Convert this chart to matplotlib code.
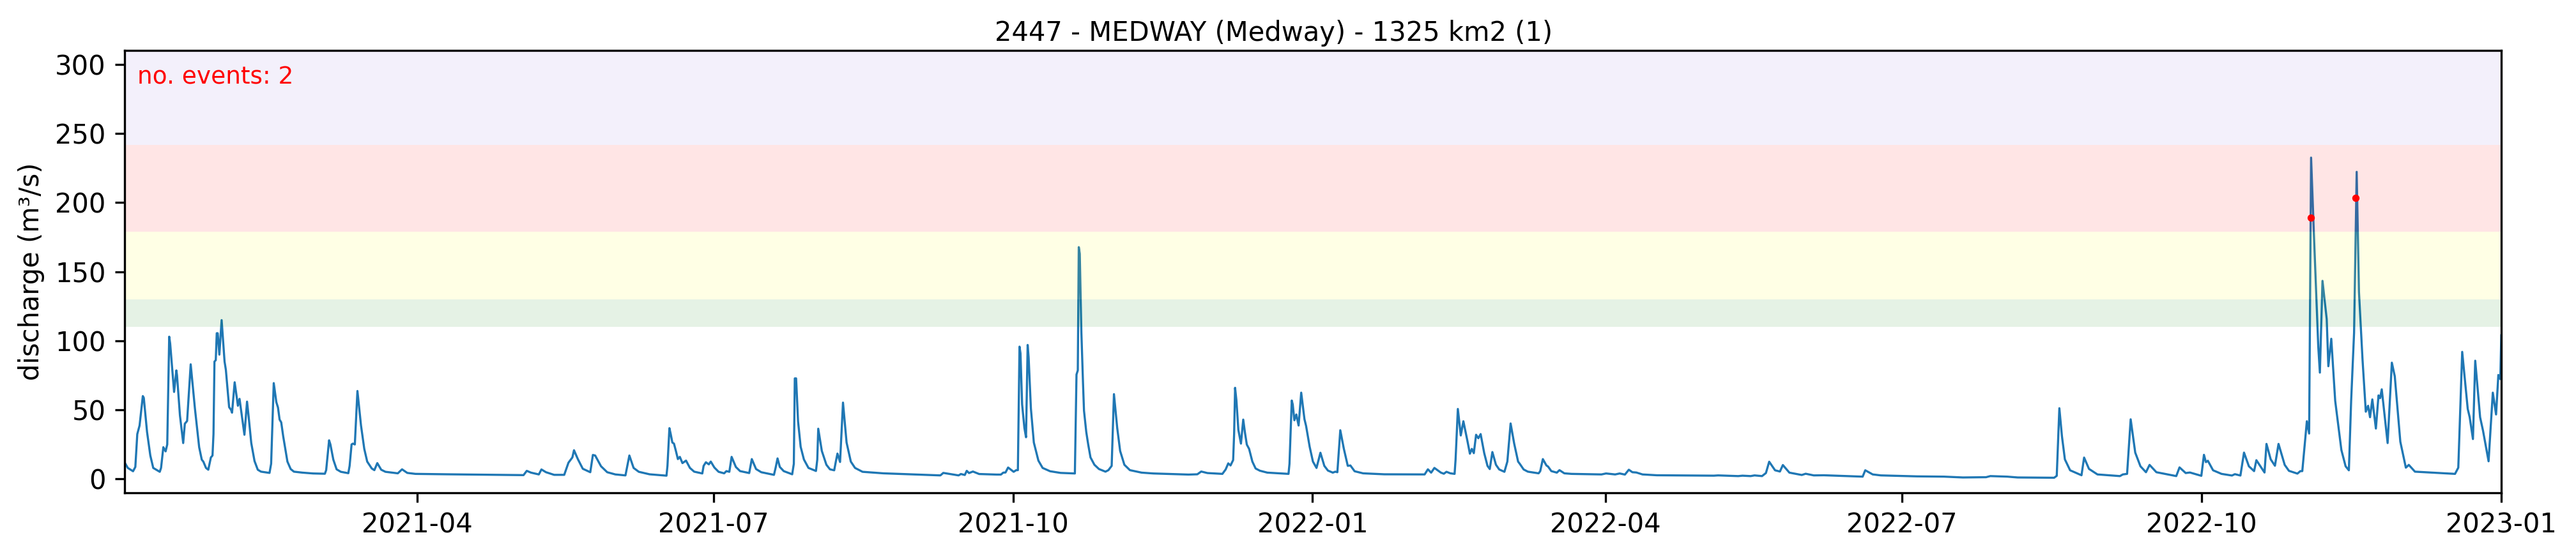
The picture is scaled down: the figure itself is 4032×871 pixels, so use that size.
import matplotlib
matplotlib.use("Agg")
import matplotlib.pyplot as plt
import matplotlib.dates as mdates
import numpy as np
import pandas as pd

# x origin of the axes, day offsets below count from here
start = pd.Timestamp("2021-01-01 05:00")
end = pd.Timestamp("2023-01-01")

title = "2447 - MEDWAY (Medway) - 1325 km2 (1)"
ylabel = "discharge (m³/s)"
events_label = "no. events: 2"

# discharge, one pair of lists per stretch of the record
days_a = [0, 1, 2.6, 3.3, 3.9, 4.6, 5.6, 5.9, 6.9, 7.9,
          8.8, 10.8, 11.2, 11.9, 12.6, 13.1, 13.7, 14, 15.2, 15.9,
          16.1, 17, 18, 18.5, 19.2, 20.3, 21.6, 22.9, 23.7, 24.2,
          25, 25.7, 26.5, 27, 27.3, 27.6, 28, 28.3, 28.6, 29.1,
          29.8, 30.7, 31.1, 32.1, 32.7, 33, 33.8, 34.8, 35.3, 36.8,
          37.6, 38.1, 38.9, 39.9, 40.9, 41.9, 44.5, 45, 45.8, 46.6,
          47.1, 47.6, 48.1, 48.7, 50, 51, 52, 54.6, 57.9, 61.5,
          61.9, 62.8, 63.2, 64.1, 65.1, 66.4, 68.7, 69.1, 69.7, 70.1,
          70.7, 71.5, 72.6, 73.6, 74.5, 75.9, 76.7, 77.6, 78.8, 80.1,
          83.9, 85.2, 86.8, 89.3, 99.1]
flow_a = [12, 8, 5.6, 8.7, 32.5, 38.7, 60, 58.7, 34, 17,
          8, 5.2, 8, 23, 20, 25, 103, 98, 63, 78.6,
          75, 46, 26, 40, 42, 83, 51, 23, 14, 12.5,
          8, 6.7, 15.6, 17, 32.5, 85, 86, 105.5, 105.5, 90,
          115, 85, 79, 52, 50, 48, 70, 53, 58, 32,
          56, 45, 26, 13, 6.7, 5.3, 4.4, 11, 69.4, 55.6,
          51.8, 43, 41, 31, 12.6, 7.2, 5.3, 4.6, 4, 3.8,
          6.4, 28, 25, 14, 7, 5.2, 4.2, 9.5, 25, 25.6,
          25, 63.7, 38.7, 21.8, 12.6, 7.6, 6.4, 11.5, 6.7, 5.2,
          4.1, 7, 4.4, 3.7, 3.4]

days_b = [122.5, 123.5, 124.8, 127.2, 128, 129.4, 130.6, 131.9, 135, 136.3,
          137.5, 138, 139.2, 140.7, 143, 143.8, 144.5, 146.3, 148.2, 150.7,
          153.8, 155, 156.3, 157.9, 161.2, 166.4, 166.7, 167.3, 167.7, 168.2,
          168.7, 169.3, 169.9, 170.5, 171.3, 172.4, 173.6, 174.9, 177.4, 177.8,
          178.5, 179.4, 180, 181.1, 182.4, 184.1, 184.8, 185.7, 186.4, 187.7,
          189, 191.8, 192.6, 193.9, 195.5, 199.4, 199.9, 200.5, 201.2, 202.4,
          205, 205.5, 205.8, 206.2, 206.8, 207.6, 208.6, 210, 212.3, 212.7,
          213, 214.1, 215.5, 216.6, 217.9, 218.4, 218.9, 219.7, 220.6, 221.7,
          223, 224.3, 226.6, 233, 250.5, 251.4, 256.1, 256.8, 258, 258.6,
          259.3, 260.5, 262.4, 267.8]
flow_b = [2.8, 5.9, 4.6, 3.3, 6.9, 4.9, 4, 3, 3, 11.8,
          15.6, 20.8, 14.3, 7.4, 4.9, 17.4, 17, 9.2, 4.9, 3.3,
          2.6, 17, 8, 5.2, 3.4, 2.4, 9.5, 36.8, 32.5, 26.4,
          25.6, 20.2, 14.4, 16, 11.5, 13.3, 8, 5.3, 4, 9.5,
          12.1, 10.6, 12.6, 8.3, 5.2, 4.1, 5.7, 5.2, 16, 8.7,
          5.7, 4.3, 14.4, 7.2, 4.9, 3, 8, 14.9, 8.7, 5.7,
          3.4, 11, 72.8, 72.8, 41.8, 23.3, 14.1, 8, 5.8, 14,
          36.4, 20.3, 10.3, 7, 6.3, 12.6, 18.4, 12.3, 55.3, 26.4,
          12.6, 8, 5.2, 4.1, 2.6, 4.4, 2.6, 3.6, 2.9, 5.9,
          4.3, 5.4, 3.6, 3.2]

days_c = [269.1, 269.8, 270.5, 271.3, 273, 273.8, 274.3, 274.8, 275.1, 275.6,
          276.3, 276.8, 277.3, 277.6, 278.3, 279.2, 280.6, 281.9, 284.2, 287.4,
          291.8, 292.3, 292.7, 293, 293.3, 293.8, 294.3, 294.6, 295.3, 295.9,
          296.6, 297.8, 299.2, 301.2, 302.1, 303.1, 303.8, 304.8, 305.7, 307,
          308.7, 312.3, 315.9, 326.7, 329.4, 330.6, 332.5, 337.1, 338.1, 338.9,
          339.6, 340.4, 340.7, 341, 341.4, 342, 342.8, 343.5, 344, 344.6,
          345.3, 346.3, 347.3, 348.6, 350.9, 357.4, 357.7, 358.4, 358.7, 359.2,
          359.8, 360.5, 361.3, 362.3, 362.8, 363.9, 364.9, 366, 367.2, 368.4,
          369.5, 371, 371.8, 372.4, 373.3, 374.4, 375.6, 376.4, 377.7, 380.3,
          386.8, 399.2, 400.2, 401.2, 402.2, 404.2]
flow_c = [3.2, 4.6, 4.7, 8.3, 5.2, 6.4, 6.4, 95.8, 91, 54,
          37, 30.2, 97, 88, 51, 26.4, 13.3, 8, 5.6, 4.4,
          4, 75.6, 78.6, 167.8, 163, 106, 69.4, 49.5, 34, 24.9,
          15.6, 10.3, 7.2, 5.3, 6.4, 9.5, 61.4, 37, 20.3, 10.3,
          6.4, 4.6, 4, 3.2, 3.4, 5.4, 4.3, 3.7, 6.9, 11.3,
          9.8, 13.7, 32.5, 66, 57, 35.6, 25.6, 43, 34, 24.9,
          21.8, 12.6, 7.6, 6, 4.6, 3.7, 11, 56.8, 54, 42.5,
          46.7, 38.7, 62.5, 43.3, 38.4, 23.3, 12.6, 8, 19, 9.5,
          6.1, 4.6, 5.3, 4.9, 35.3, 21.8, 9.5, 9.8, 5.6, 4.1,
          3.4, 3.3, 7, 4.6, 8, 4.6]

days_d = [405.1, 405.9, 407.1, 408.4, 408.7, 409.4, 410.3, 411.1, 412.3, 413.1,
          413.7, 414.3, 415, 415.7, 416.4, 417.5, 418.5, 419.2, 420, 421.1,
          422.1, 423.7, 424.6, 425.6, 426.7, 427.9, 428.5, 429.6, 430.9, 434.2,
          434.7, 435.5, 436.6, 437.1, 438.1, 439.8, 440.6, 442.1, 444.3, 453.5,
          454.9, 457.7, 459.1, 460.7, 461.9, 463, 464.2, 466.1, 470.5, 488,
          489.3, 495.5, 496.8, 499.3, 500.5, 502.8, 504, 505, 506.8, 508.3,
          509.2, 511.2, 515, 516.2, 518.7, 521.8, 533.7, 534.5, 536.8, 539.3,
          550.3, 558.7, 564.5, 571.6, 572.9, 578.1, 581.3, 592.5]
flow_d = [3.8, 5.2, 4.1, 3.7, 14, 50.7, 31.5, 41.8, 28, 18.3,
          21.8, 18.7, 32, 29.5, 32.5, 18.7, 9.5, 7.2, 19.5, 10.3,
          6.9, 5.2, 12.6, 40.2, 25.6, 12.6, 10.7, 6.9, 5.3, 4.1,
          5.7, 14.4, 9.8, 9, 5.7, 4.6, 6.4, 4.1, 3.7, 3.3,
          4, 3.3, 4, 3.2, 6.7, 4.9, 4.7, 3.3, 2.7, 2.4,
          2.6, 2.1, 2.4, 2.1, 2.6, 2.1, 4.3, 12.5, 6.3, 5.4,
          10.1, 4.6, 2.9, 3.8, 2.6, 2.7, 1.7, 6.3, 3.3, 2.6,
          1.9, 1.7, 1.1, 1.3, 2.1, 1.7, 1.1, 0.9]

days_e = [593.3, 594.1, 594.9, 595.8, 597.4, 600.9, 601.7, 603.2, 605.8, 612.7,
          613.6, 614.9, 616, 617.4, 619, 620.7, 621.8, 623.9, 630, 631,
          632.9, 634.2, 637.7, 638.5, 639.1, 639.7, 641.3, 643.9, 647.1, 648,
          649.7, 650.8, 652.3, 653.9, 654.6, 657.1, 657.7, 659, 660.3, 661.4,
          663.3, 664.6, 667.2, 668.1, 668.7, 670.1, 670.8, 671.4, 672.3, 673.6,
          674.1, 674.9, 676.2, 676.7, 677.6, 678.8, 680.7, 682, 683, 683.7,
          684.6, 685.4, 686.1, 687.2, 688.2, 688.9, 689.5, 690.2, 691.3, 692.1,
          692.6, 693.1, 694.9, 696.2, 697.1, 698.8, 700.5, 701.4, 703.3, 715.6,
          716.6, 717.8, 719.5, 720.1, 721.1, 721.8, 723.3, 724.2, 725.9, 727.2,
          728.2, 728.9, 729.5, 729.8]
flow_e = [2.3, 51.2, 30.9, 14.2, 6.3, 2.7, 15.5, 7.3, 3.3, 2.1,
          3.3, 3.7, 43.2, 19.1, 9.2, 4.9, 10.2, 4.9, 2.1, 8.4,
          4.3, 4.7, 2.3, 17.5, 12.2, 13.2, 6.3, 3.7, 2.5, 3.5,
          2.5, 19.1, 9.2, 5.7, 13.6, 4.7, 25.4, 14.2, 9.6, 25.4,
          10.2, 5.9, 3.9, 5.7, 5.7, 41.8, 32.9, 232.6, 175, 96,
          77, 143.4, 115.7, 81.6, 101.5, 56.6, 21, 9.2, 6.3, 56.6,
          105.9, 222.3, 135.5, 86.2, 48.7, 53, 44.7, 57.6, 36.5, 60.5,
          58.5, 64.9, 26, 84.2, 74.3, 27, 8.2, 10.2, 5.3, 3.7,
          8.2, 92, 50.7, 44.7, 28.9, 85.6, 44.7, 34.9, 12.8, 62.5,
          46.7, 75.3, 72.3, 104]

# flagged events
event_days = [671.3, 685.1]
event_flow = [189, 203.3]

# warning bands
band_edges = [110, 130, 179, 242, 310]
band_colors = ["green", "yellow", "red", "mediumpurple"]

days = days_a + days_b + days_c + days_d + days_e
flow = flow_a + flow_b + flow_c + flow_d + flow_e
assert len(days_a) == len(flow_a) and len(days_b) == len(flow_b)
assert len(days_c) == len(flow_c) and len(days_d) == len(flow_d)
assert len(days_e) == len(flow_e)
assert np.all(np.diff(days) > 0)

dates = start + pd.to_timedelta(days, unit="D")
ev_dates = start + pd.to_timedelta(event_days, unit="D")

fig = plt.figure(figsize=(13.44, 871 / 300), dpi=300)
ax = fig.add_axes([195 / 4032, 1 - 772 / 871, 3720 / 4032, 692.6 / 871])

ax.plot(dates, flow, lw=0.8, color="C0")
ax.scatter(ev_dates, event_flow, s=3, color="red", zorder=3)
for i, c in enumerate(band_colors):
    ax.axhspan(band_edges[i], band_edges[i + 1], color=c, alpha=0.1, lw=0, zorder=2.5)

ax.set_xlim(start, end)
ax.set_ylim(-10, 310)
ax.xaxis.set_major_locator(mdates.MonthLocator(bymonth=[1, 4, 7, 10]))
ax.xaxis.set_major_formatter(mdates.DateFormatter("%Y-%m"))
ax.set_title(title, fontsize=10, x=0.4836, pad=3.6)
ax.set_ylabel(ylabel)
ax.text(0.0054, 0.939, events_label, color="red", fontsize=9, va="center", transform=ax.transAxes)

fig.savefig("out.png", dpi=300)
